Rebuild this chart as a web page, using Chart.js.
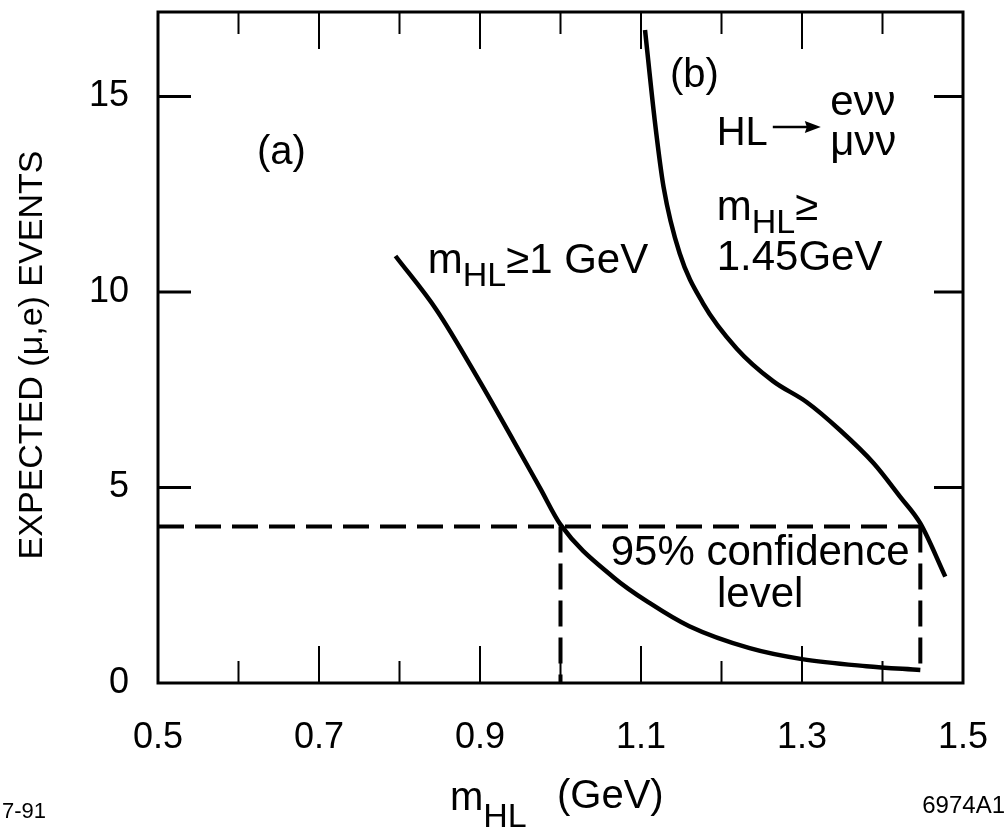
<!DOCTYPE html>
<html>
<head>
<meta charset="utf-8">
<title>Expected (mu,e) events vs m_HL</title>
<script src="https://cdn.jsdelivr.net/npm/chart.js@4/dist/chart.umd.min.js"></script>
<style>
  html, body { margin: 0; padding: 0; background: #fff; }
  #box { width: 1006px; height: 833px; }
</style>
</head>
<body>
<div id="box"><canvas id="grafico" width="1006" height="833"></canvas></div>
<script>
// curve (a): m_HL >= 1 GeV
const curveAX = [0.795, 0.846, 0.90, 0.941, 0.975, 1.0, 1.066, 1.111, 1.16, 1.235, 1.30, 1.38, 1.447];
const curveAY = [10.92, 9.54, 7.70, 6.22, 4.97, 4.05, 2.70, 2.04, 1.45, 0.89, 0.61, 0.43, 0.33];

// curve (b): HL -> e nu nu / mu nu nu, m_HL >= 1.45 GeV
const curveBX = [1.105, 1.117, 1.128, 1.148, 1.177, 1.219, 1.264, 1.306, 1.347, 1.389, 1.422, 1.447, 1.478];
const curveBY = [16.70, 14.40, 12.69, 10.99, 9.71, 8.55, 7.72, 7.18, 6.47, 5.62, 4.76, 4.08, 2.72];

// 95% confidence level box
const clLevel = 4.0;
const clLimitsX = [1.0, 1.447];
const clLimitsBottom = [0, 0.33];

// axes
const xRange = [0.5, 1.5];
const yRange = [0, 17.16];
const xTickLabels = [0.5, 0.7, 0.9, 1.1, 1.3, 1.5];
const yTickLabels = [0, 5, 10, 15];
const xLongTicks = [0.7, 0.9, 1.1, 1.3];
const xShortTicks = [0.6, 0.8, 1.0, 1.2, 1.4];
const yInnerTicks = [5, 10, 15];

const FONT = '"Liberation Sans", Arial, Helvetica, sans-serif';

function toPoints(xs, ys) {
    return xs.map((x, i) => ({ x: x, y: ys[i] }));
}

function curve(xs, ys) {
    return {
        data: toPoints(xs, ys),
        borderColor: '#000',
        borderWidth: 4.5,
        pointRadius: 0,
        cubicInterpolationMode: 'monotone',
        fill: false
    };
}

function dashed(points) {
    return {
        data: points,
        borderColor: '#000',
        borderWidth: 4,
        borderDash: [26, 11],
        pointRadius: 0,
        tension: 0,
        fill: false
    };
}

// draws "m" with subscript "HL", returns x where the text ends
function drawMHL(ctx, x, y, size, subSize, drop) {
    ctx.font = size + 'px ' + FONT;
    ctx.fillText('m', x, y);
    x += ctx.measureText('m').width;
    ctx.font = subSize + 'px ' + FONT;
    ctx.fillText('HL', x, y + drop);
    return x + ctx.measureText('HL').width;
}

// frame, inward ticks and all the texts
const extras = {
    id: 'extras',
    afterDraw(chart) {
        const ctx = chart.ctx;
        const a = chart.chartArea;
        const sx = chart.scales.x, sy = chart.scales.y;
        ctx.save();
        ctx.strokeStyle = '#000';
        ctx.fillStyle = '#000';
        ctx.lineCap = 'butt';

        // x ticks, bottom and top
        ctx.lineWidth = 2;
        const xt = xLongTicks.map(v => [v, 37]).concat(xShortTicks.map(v => [v, 22]));
        xt.forEach(([v, len]) => {
            const px = sx.getPixelForValue(v);
            ctx.beginPath();
            ctx.moveTo(px, a.bottom); ctx.lineTo(px, a.bottom - len);
            ctx.moveTo(px, a.top); ctx.lineTo(px, a.top + len);
            ctx.stroke();
        });
        // y ticks, left and right
        ctx.lineWidth = 3;
        yInnerTicks.forEach(v => {
            const py = sy.getPixelForValue(v);
            ctx.beginPath();
            ctx.moveTo(a.left, py); ctx.lineTo(a.left + 33, py);
            ctx.moveTo(a.right, py); ctx.lineTo(a.right - 29, py);
            ctx.stroke();
        });
        // frame
        ctx.lineWidth = 3;
        ctx.strokeRect(a.left, a.top, a.right - a.left, a.bottom - a.top);

        // annotations inside the plot (placed in data units)
        const P = (x, y) => [sx.getPixelForValue(x), sy.getPixelForValue(y)];
        ctx.textBaseline = 'alphabetic';
        ctx.textAlign = 'left';
        ctx.font = '40px ' + FONT;
        let p = P(0.623, 13.28); ctx.fillText('(a)', p[0], p[1]);
        p = P(1.136, 15.25); ctx.fillText('(b)', p[0], p[1]);

        ctx.font = '40px ' + FONT;
        p = P(1.194, 13.76);
        ctx.fillText('HL', p[0], p[1]);
        // arrow HL -> decays
        const ax = p[0] + ctx.measureText('HL').width + 5, ay = p[1] - 18;
        ctx.lineWidth = 2.5;
        ctx.beginPath();
        ctx.moveTo(ax, ay); ctx.lineTo(ax + 36, ay);
        ctx.stroke();
        ctx.beginPath();
        ctx.moveTo(ax + 48, ay); ctx.lineTo(ax + 32, ay - 6); ctx.lineTo(ax + 34, ay); ctx.lineTo(ax + 32, ay + 6);
        ctx.closePath();
        ctx.fill();

        ctx.font = '42px ' + FONT;
        p = P(1.335, 14.53); ctx.fillText('e\u03BD\u03BD', p[0], p[1]);
        p = P(1.335, 13.50); ctx.fillText('\u03BC\u03BD\u03BD', p[0], p[1]);

        p = P(1.194, 11.84);
        let e = drawMHL(ctx, p[0], p[1], 42, 34, 13);
        ctx.font = '42px ' + FONT;
        ctx.fillText('\u2265', e, p[1]);
        p = P(1.194, 10.56); ctx.fillText('1.45GeV', p[0], p[1]);

        p = P(0.835, 10.49);
        e = drawMHL(ctx, p[0], p[1], 42, 34, 13);
        ctx.font = '42px ' + FONT;
        ctx.fillText('\u22651 GeV', e, p[1]);

        ctx.textAlign = 'center';
        p = P(1.248, 3.02); ctx.fillText('95% confidence', p[0], p[1]);
        p = P(1.248, 1.94); ctx.fillText('level', p[0], p[1]);

        // axis titles and figure codes
        ctx.textAlign = 'left';
        e = drawMHL(ctx, 450, 810, 40, 34, 17);
        ctx.font = '40px ' + FONT;
        ctx.fillText('(GeV)', 557, 808);

        ctx.font = '22px ' + FONT;
        ctx.fillText('7-91', 2, 818);
        ctx.textAlign = 'right';
        ctx.font = '24px ' + FONT;
        ctx.fillText('6974A1', 1005, 813);

        ctx.translate(42, 355);
        ctx.rotate(-Math.PI / 2);
        ctx.textAlign = 'center';
        ctx.font = '34px ' + FONT;
        ctx.fillText('EXPECTED (\u03BC,e) EVENTS', 0, 0);
        ctx.restore();
    }
};

const ctx = document.getElementById('grafico').getContext('2d');
new Chart(ctx, {
    type: 'line',
    data: {
        datasets: [
            curve(curveAX, curveAY),
            curve(curveBX, curveBY),
            dashed([{ x: xRange[0], y: clLevel }, { x: clLimitsX[1], y: clLevel }]),
            dashed([{ x: clLimitsX[0], y: clLevel }, { x: clLimitsX[0], y: clLimitsBottom[0] }]),
            dashed([{ x: clLimitsX[1], y: clLevel }, { x: clLimitsX[1], y: clLimitsBottom[1] }])
        ]
    },
    options: {
        responsive: false,
        animation: false,
        layout: { padding: { top: 12, right: 43, bottom: 0, left: 0 } },
        plugins: { legend: { display: false }, tooltip: { enabled: false } },
        scales: {
            x: {
                type: 'linear',
                min: xRange[0],
                max: xRange[1],
                grid: { display: false, drawTicks: false },
                border: { display: false },
                afterBuildTicks: s => { s.ticks = xTickLabels.map(v => ({ value: v })); },
                afterFit: s => { s.height = 150; s.paddingLeft = 0; s.paddingRight = 0; },
                ticks: {
                    callback: v => v.toFixed(1),
                    color: '#000',
                    font: { family: FONT, size: 36 },
                    padding: 33,
                    maxRotation: 0,
                    autoSkip: false
                }
            },
            y: {
                type: 'linear',
                min: yRange[0],
                max: yRange[1],
                grid: { display: false, drawTicks: false },
                border: { display: false },
                afterBuildTicks: s => { s.ticks = yTickLabels.map(v => ({ value: v })); },
                afterFit: s => { s.width = 158; s.paddingTop = 0; s.paddingBottom = 0; },
                ticks: {
                    callback: v => String(v),
                    color: '#000',
                    font: { family: FONT, size: 36 },
                    padding: 29,
                    autoSkip: false
                }
            }
        }
    },
    plugins: [extras]
});
</script>
</body>
</html>
